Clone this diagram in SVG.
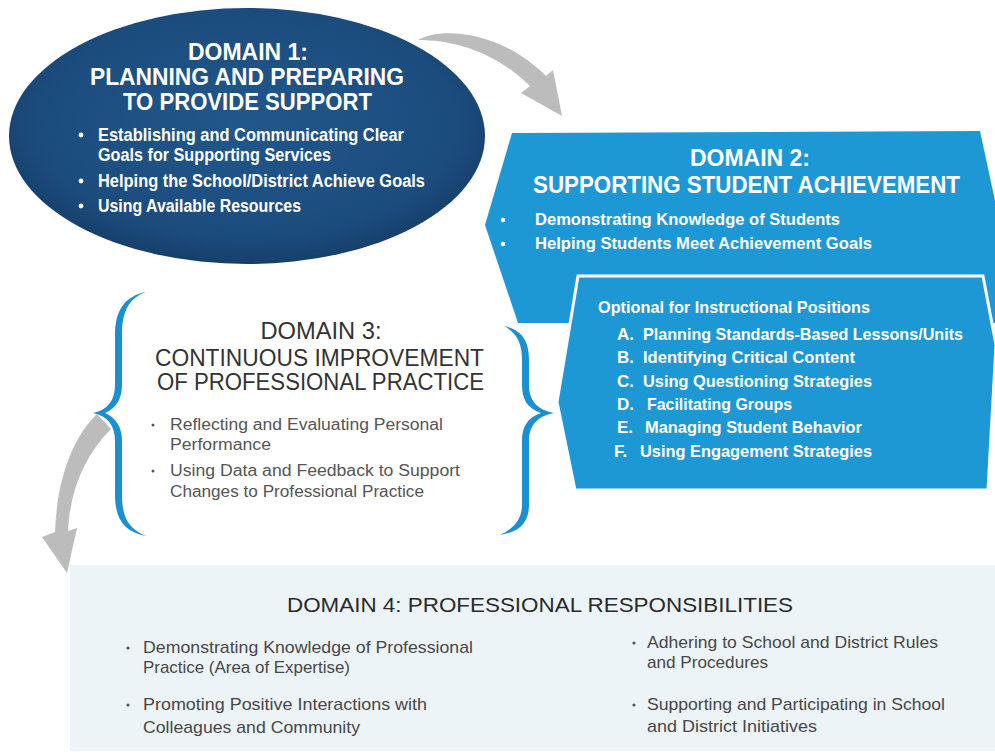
<svg xmlns="http://www.w3.org/2000/svg" width="995" height="755" viewBox="0 0 995 755">
  <defs>
    <radialGradient id="navy" cx="0.5" cy="0.45" r="0.55">
      <stop offset="0" stop-color="#21578b"/>
      <stop offset="0.8" stop-color="#1c4c7e"/>
      <stop offset="1" stop-color="#163f6b"/>
    </radialGradient>
    <style>
      .wb { font-family: "Liberation Sans", Arial, sans-serif; font-weight: bold; fill: #ffffff; }
      .h { font-size: 24px; }
      .b1 { font-size: 18px; }
      .b2 { font-size: 17px; }
      .g3 { font-family: "Liberation Sans", Arial, sans-serif; fill: #333333; }
      .h3 { font-size: 23px; }
      .s3 { font-size: 16px; fill: #555555; }
      .g4 { font-family: "Liberation Sans", Arial, sans-serif; fill: #3a3a3a; }
      .h4 { font-size: 21px; fill: #2a2a2a; }
      .s4 { font-size: 17px; fill: #474747; }
      .dotw { fill: #ffffff; }
      .dotg { fill: #555555; }
      .brace { fill: #1a90d0; }
      .arrow { fill: #bcbcbc; }
    </style>
  </defs>

  <rect x="0" y="0" width="995" height="755" fill="#ffffff"/>

  <!-- Domain 4 background and content -->
  <g id="domain4">
    <rect x="70" y="565" width="925" height="186" fill="#edf4f7"/>
    <text class="g4 h4" x="287" y="612" textLength="506" lengthAdjust="spacingAndGlyphs">DOMAIN 4: PROFESSIONAL RESPONSIBILITIES</text>
    <circle class="dotg" cx="128" cy="648" r="1.6"/>
    <text class="g4 s4" x="143" y="653" textLength="330" lengthAdjust="spacingAndGlyphs">Demonstrating Knowledge of Professional</text>
    <text class="g4 s4" x="143" y="673" textLength="207" lengthAdjust="spacingAndGlyphs">Practice (Area of Expertise)</text>
    <circle class="dotg" cx="128" cy="705" r="1.6"/>
    <text class="g4 s4" x="143" y="710" textLength="284" lengthAdjust="spacingAndGlyphs">Promoting Positive Interactions with</text>
    <text class="g4 s4" x="143" y="733" textLength="217" lengthAdjust="spacingAndGlyphs">Colleagues and Community</text>
    <circle class="dotg" cx="634" cy="643" r="1.6"/>
    <text class="g4 s4" x="647" y="648" textLength="291" lengthAdjust="spacingAndGlyphs">Adhering to School and District Rules</text>
    <text class="g4 s4" x="647" y="668" textLength="121" lengthAdjust="spacingAndGlyphs">and Procedures</text>
    <circle class="dotg" cx="634" cy="705" r="1.6"/>
    <text class="g4 s4" x="647" y="710" textLength="298" lengthAdjust="spacingAndGlyphs">Supporting and Participating in School</text>
    <text class="g4 s4" x="647" y="732" textLength="170" lengthAdjust="spacingAndGlyphs">and District Initiatives</text>
  </g>

  <!-- Domain 1 -->
  <g id="domain1">
    <ellipse cx="247" cy="136" rx="238" ry="128" fill="url(#navy)"/>
    <text class="wb h" x="248" y="60" text-anchor="middle" textLength="120" lengthAdjust="spacingAndGlyphs">DOMAIN 1:</text>
    <text class="wb h" x="247" y="85" text-anchor="middle" textLength="314" lengthAdjust="spacingAndGlyphs">PLANNING AND PREPARING</text>
    <text class="wb h" x="247.5" y="110" text-anchor="middle" textLength="249" lengthAdjust="spacingAndGlyphs">TO PROVIDE SUPPORT</text>
    <circle class="dotw" cx="81" cy="135" r="2.4"/>
    <text class="wb b1" x="98" y="141" textLength="306" lengthAdjust="spacingAndGlyphs">Establishing and Communicating Clear</text>
    <text class="wb b1" x="98" y="161" textLength="233" lengthAdjust="spacingAndGlyphs">Goals for Supporting Services</text>
    <circle class="dotw" cx="81" cy="181" r="2.4"/>
    <text class="wb b1" x="98" y="187" textLength="327" lengthAdjust="spacingAndGlyphs">Helping the School/District Achieve Goals</text>
    <circle class="dotw" cx="81" cy="206" r="2.4"/>
    <text class="wb b1" x="98" y="212" textLength="203" lengthAdjust="spacingAndGlyphs">Using Available Resources</text>
  </g>

  <!-- Domain 2 -->
  <g id="domain2">
    <polygon points="512,133 980,131 997,210 997,323 518,323 485,225" fill="#1e98d5"/>
    <text class="wb h" x="750" y="166" text-anchor="middle" textLength="120" lengthAdjust="spacingAndGlyphs">DOMAIN 2:</text>
    <text class="wb h" x="746.5" y="193" text-anchor="middle" textLength="427" lengthAdjust="spacingAndGlyphs">SUPPORTING STUDENT ACHIEVEMENT</text>
    <circle class="dotw" cx="503" cy="220" r="2.2"/>
    <text class="wb b2" x="535" y="225" textLength="305" lengthAdjust="spacingAndGlyphs">Demonstrating Knowledge of Students</text>
    <circle class="dotw" cx="503" cy="244" r="2.2"/>
    <text class="wb b2" x="535" y="249" textLength="337" lengthAdjust="spacingAndGlyphs">Helping Students Meet Achievement Goals</text>
  </g>

  <g id="domain2-optional">
    <polygon points="578,276 983,276 996,345 988,490 575,490 557,402" fill="#1e98d5" stroke="#ffffff" stroke-width="3" stroke-linejoin="miter"/>
    <text class="wb b2" x="598" y="313" textLength="272" lengthAdjust="spacingAndGlyphs">Optional for Instructional Positions</text>
    <text class="wb b2" x="617" y="340">A.</text>
    <text class="wb b2" x="643" y="340" textLength="320" lengthAdjust="spacingAndGlyphs">Planning Standards-Based Lessons/Units</text>
    <text class="wb b2" x="617" y="363">B.</text>
    <text class="wb b2" x="643" y="363" textLength="212" lengthAdjust="spacingAndGlyphs">Identifying Critical Content</text>
    <text class="wb b2" x="617" y="387">C.</text>
    <text class="wb b2" x="643" y="387" textLength="229" lengthAdjust="spacingAndGlyphs">Using Questioning Strategies</text>
    <text class="wb b2" x="617" y="410">D.</text>
    <text class="wb b2" x="647" y="410" textLength="145" lengthAdjust="spacingAndGlyphs">Facilitating Groups</text>
    <text class="wb b2" x="617" y="433">E.</text>
    <text class="wb b2" x="645" y="433" textLength="217" lengthAdjust="spacingAndGlyphs">Managing Student Behavior</text>
    <text class="wb b2" x="614" y="457">F.</text>
    <text class="wb b2" x="640" y="457" textLength="232" lengthAdjust="spacingAndGlyphs">Using Engagement Strategies</text>
  </g>

  <!-- Domain 3 -->
  <g id="domain3">
    <path class="brace" d="M146 292 C125 296 115 310 115 335 L115 385 C115 400 108 410 93 413 C108 416 115 426 115 441 L115 495 C115 520 125 532 146 536 C129 529 122 518 122 495 L122 441 C122 427 116 418 105 413 C116 408 122 399 122 385 L122 335 C122 311 129 298 146 292 Z"/>
    <path class="brace" d="M504 326 C522 330 529 341 529 360 L529 385 C529 400 537 410 554 413 C537 416 529 426 529 441 L529 505 C529 522 520 532 500 535 C515 528 522 518 522 505 L522 441 C522 427 527 418 541 413 C527 408 522 399 522 385 L522 360 C522 343 517 333 504 326 Z"/>
    <text class="g3 h3" x="321" y="339" text-anchor="middle" textLength="121" lengthAdjust="spacingAndGlyphs">DOMAIN 3:</text>
    <text class="g3 h3" x="319.5" y="366" text-anchor="middle" textLength="329" lengthAdjust="spacingAndGlyphs">CONTINUOUS IMPROVEMENT</text>
    <text class="g3 h3" x="320.5" y="390" text-anchor="middle" textLength="327" lengthAdjust="spacingAndGlyphs">OF PROFESSIONAL PRACTICE</text>
    <circle class="dotg" cx="153" cy="425" r="1.5"/>
    <text class="g3 s3" x="170" y="430" textLength="273" lengthAdjust="spacingAndGlyphs">Reflecting and Evaluating Personal</text>
    <text class="g3 s3" x="170" y="450" textLength="101" lengthAdjust="spacingAndGlyphs">Performance</text>
    <circle class="dotg" cx="153" cy="471" r="1.5"/>
    <text class="g3 s3" x="170" y="476" textLength="290" lengthAdjust="spacingAndGlyphs">Using Data and Feedback to Support</text>
    <text class="g3 s3" x="170" y="497" textLength="254" lengthAdjust="spacingAndGlyphs">Changes to Professional Practice</text>
  </g>

  <!-- Connectors -->
  <g id="connectors">
    <path class="arrow" d="M418 40 C440 27 500 30 546 76 L553 70 L562 116 L521 93 L530 86 C495 52 455 40 418 40 Z"/>
    <path class="arrow" d="M97 414 C75 435 57 475 55 532 L42 537 L67 573 L77 528 L68 531 C70 490 85 455 111 429 Z"/>
  </g>
</svg>
